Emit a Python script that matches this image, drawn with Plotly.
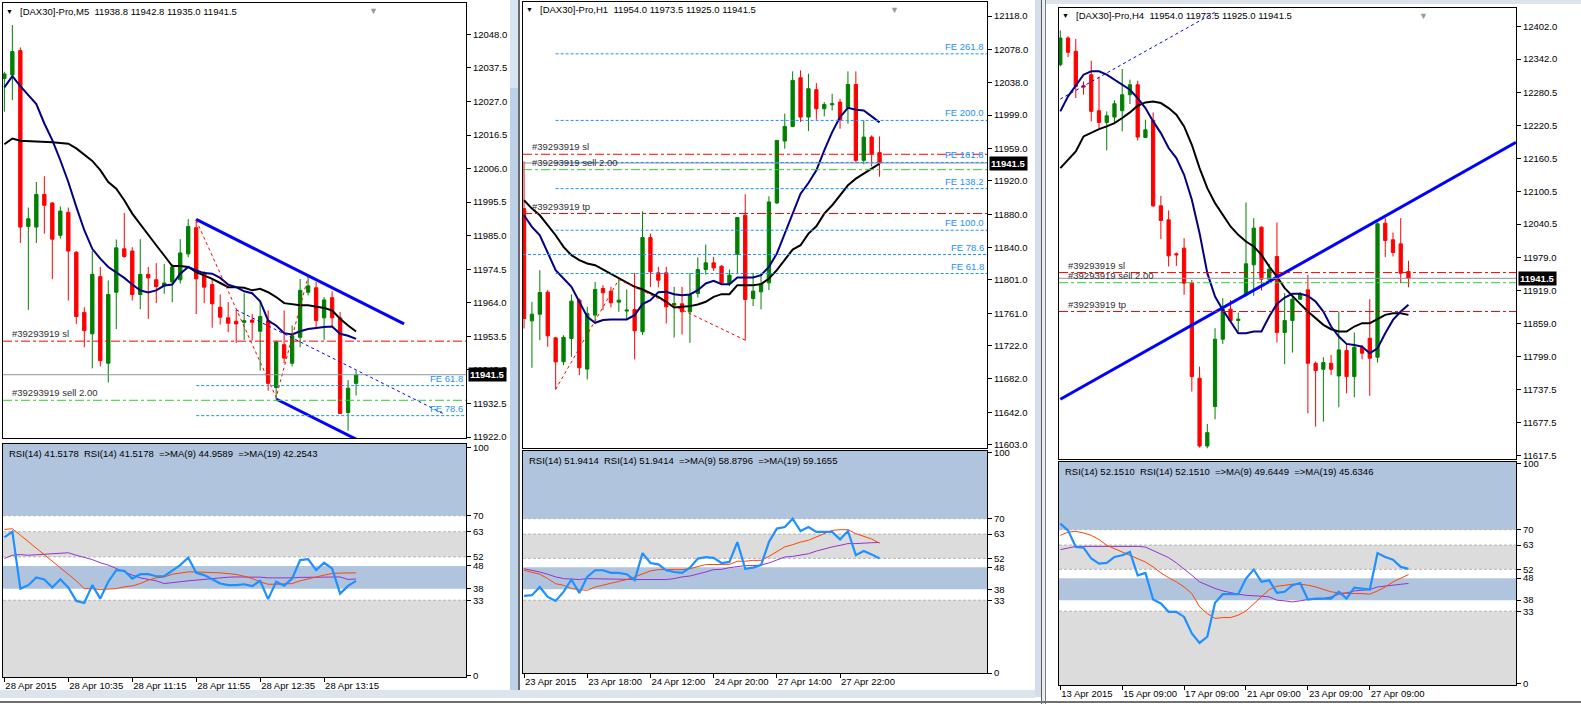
import plotly.graph_objects as go

# ---------------- M5 window ----------------
m5_open = [12034.2, 12035.3, 12042.9, 11987.9, 11987.7, 11997.9, 11995.2, 11985.1, 11992.3, 11979.8,
           11961.0, 11954.3, 11972.2, 11945.1, 11967.3, 11980.9, 11980.2, 11966.6, 11972.9, 11971.2,
           11969.3, 11970.5, 11971.2, 11979.3, 11987.5, 11973.3, 11969.7, 11962.6, 11959.3, 11958.2,
           11957.9, 11958.6, 11955.1, 11958.4, 11937.5, 11950.9, 11945.1, 11953.2, 11967.3, 11968.7,
           11959.3, 11965.6, 11959.3, 11929.7, 11938.8]
m5_high = [12036.3, 12050.9, 12043.9, 11993.8, 12001.8, 12003.6, 11995.5, 11994.2, 11993.8, 11980.2,
           11962.6, 11980.2, 11975.2, 11971.0, 11983.8, 11992.1, 11981.4, 11983.9, 11975.2, 11976.4,
           11976.2, 11976.0, 11983.9, 11990.2, 11990.2, 11973.9, 11971.4, 11966.6, 11964.2, 11961.8,
           11967.0, 11960.5, 11964.7, 11961.6, 11952.2, 11961.6, 11956.9, 11971.5, 11972.5, 11970.5,
           11965.8, 11967.6, 11961.1, 11939.8, 11942.8]
m5_low = [12023.8, 12027.4, 11982.7, 11961.8, 11982.7, 11985.6, 11971.4, 11984.1, 11964.7, 11957.4,
          11950.1, 11943.5, 11944.1, 11939.1, 11955.8, 11978.1, 11964.7, 11962.0, 11959.0, 11963.9,
          11966.8, 11964.2, 11970.0, 11978.3, 11960.5, 11963.9, 11956.2, 11957.2, 11954.8, 11951.4,
          11952.4, 11952.2, 11942.8, 11936.5, 11933.9, 11945.1, 11944.1, 11950.1, 11966.3, 11955.8,
          11952.4, 11956.4, 11929.2, 11924.0, 11935.0]
m5_close = [12035.6, 12042.6, 11987.7, 11990.3, 11997.9, 11994.5, 11983.9, 11992.7, 11980.2, 11959.7,
            11955.3, 11972.9, 11945.9, 11966.6, 11981.2, 11978.5, 11966.6, 11972.9, 11971.8, 11969.1,
            11970.2, 11975.2, 11979.6, 11987.9, 11971.5, 11968.9, 11963.7, 11959.5, 11957.6, 11957.4,
            11958.4, 11957.9, 11959.7, 11938.8, 11951.7, 11946.7, 11953.7, 11967.9, 11969.3, 11958.4,
            11964.9, 11959.3, 11929.4, 11937.3, 11941.5]
m5_ma_fast = [12031.4, 12034.9, 12031.8, 12029.0, 12026.2, 12020.1, 12014.9, 12008.6, 12001.8, 11994.0,
              11986.7, 11980.9, 11977.8, 11975.2, 11973.6, 11971.8, 11969.7, 11967.9, 11967.2, 11967.9,
              11969.4, 11969.7, 11973.1, 11975.2, 11974.1, 11973.3, 11973.1, 11971.8, 11969.7, 11968.9,
              11967.6, 11967.0, 11964.5, 11958.4, 11956.9, 11954.5, 11954.1, 11955.1, 11955.8, 11956.2,
              11956.4, 11956.6, 11954.3, 11953.7, 11952.7]
m5_ma_slow = [12013.6, 12015.4, 12014.7, 12014.6, 12014.6, 12014.5, 12014.2, 12014.0, 12013.8, 12012.3,
              12010.2, 12008.4, 12005.5, 12001.8, 11999.7, 11996.1, 11991.9, 11988.5, 11985.1, 11982.0,
              11978.8, 11975.5, 11975.5, 11975.2, 11973.6, 11972.6, 11971.5, 11970.2, 11968.9, 11968.9,
              11968.7, 11967.9, 11968.4, 11967.3, 11965.8, 11963.9, 11963.5, 11963.2, 11963.2, 11962.8,
              11962.4, 11961.6, 11959.0, 11956.9, 11955.0]
m5_rsi = [60.5, 63.0, 38.1, 39.6, 43.0, 42.1, 38.6, 42.2, 38.6, 32.7, 31.8, 39.6, 33.7, 41.1, 46.2,
          45.9, 42.5, 44.4, 44.4, 43.5, 43.5, 45.9, 48.4, 51.7, 45.0, 44.0, 42.1, 40.3, 39.6, 39.6,
          40.0, 39.2, 41.5, 33.5, 41.1, 39.4, 42.5, 50.6, 51.0, 46.2, 49.4, 46.9, 35.9, 39.3, 41.5]
m5_rsi_ma9 = [64.0, 64.3, 61.5, 58.6, 55.7, 52.7, 49.8, 46.9, 44.4, 41.5, 38.1, 38.1, 37.7, 37.8, 38.1,
              38.9, 39.3, 40.3, 41.8, 42.8, 43.2, 44.4, 45.0, 45.4, 45.4, 45.1, 45.1, 45.0, 44.7, 44.3,
              43.5, 42.5, 41.1, 40.0, 40.0, 40.0, 40.3, 41.5, 42.5, 43.2, 44.0, 44.7, 44.9, 45.0, 45.0]
m5_rsi_ma19 = [51.3, 52.7, 53.0, 52.7, 52.9, 53.2, 53.5, 53.8, 53.8, 52.7, 51.7, 50.8, 49.4, 48.4, 46.9,
               45.4, 44.0, 42.8, 42.2, 41.5, 40.3, 40.8, 41.1, 41.5, 41.8, 42.2, 42.5, 42.8, 43.1, 43.2,
               43.2, 43.2, 43.1, 42.8, 42.7, 42.7, 42.8, 43.0, 43.1, 43.2, 43.2, 43.2, 43.2, 42.1, 42.3]
m5_price_ticks = [11922.0, 11932.5, 11943.0, 11953.5, 11964.0, 11974.5, 11985.0, 11995.5, 12006.0,
                  12016.5, 12027.0, 12037.5, 12048.0]
m5_date_bars = [0, 8, 16, 24, 32, 40]
m5_dates = ["28 Apr 2015", "28 Apr 10:35", "28 Apr 11:15", "28 Apr 11:55", "28 Apr 12:35", "28 Apr 13:15"]
m5_rsi_text = "RSI(14) 41.5178  RSI(14) 41.5178  =>MA(9) 44.9589  =>MA(19) 42.2543"
m5_channel_top = ([24, 50], [11990.1, 11957.4])
m5_channel_bottom = ([34, 50], [11933.9, 11913.8])
m5_dotted = ([29, 55], [11961.8, 11929.2])
m5_zigzag = ([24, 34, 38], [11989.8, 11934.4, 11972.2])
m5_fe_start = 24
m5_fe_names = ["FE 61.8", "FE 78.6"]
m5_fe_levels = [11938.1, 11928.7]

# ---------------- H1 window ----------------
h1_open = [11886.7, 11751.8, 11759.8, 11786.3, 11731.4, 11702.6, 11730.6, 11776.7, 11693.8, 11758.7,
           11790.7, 11787.5, 11774.3, 11763.5, 11765.5, 11738.7, 11851.9, 11809.5, 11809.5, 11770.7,
           11772.3, 11762.7, 11784.7, 11813.5, 11821.5, 11817.5, 11796.7, 11831.9, 11878.7, 11778.7,
           11786.7, 11797.5, 11893.5, 11967.9, 11985.5, 12044.0, 11996.7, 12029.6, 12006.7, 12011.5,
           12014.7, 12007.9, 12035.9, 11944.7, 11972.7, 11954.0]
h1_high = [11943.5, 11774.7, 11812.7, 11788.7, 11732.6, 11734.6, 11783.5, 11778.7, 11768.7, 11798.7,
           11794.7, 11792.7, 11801.5, 11789.5, 11809.5, 11883.5, 11856.7, 11816.7, 11816.7, 11792.7,
           11792.7, 11809.5, 11827.9, 11843.5, 11828.7, 11818.7, 11813.5, 11876.7, 11903.9, 11809.5,
           11809.5, 11901.5, 11968.7, 12000.8, 12051.6, 12052.8, 12048.8, 12037.6, 12014.7, 12024.7,
           12018.7, 12051.6, 12051.6, 11992.7, 11974.7, 11973.5]
h1_low = [11742.6, 11695.4, 11728.6, 11720.6, 11669.4, 11698.6, 11708.6, 11686.6, 11681.4, 11751.8,
          11764.7, 11767.9, 11762.7, 11752.7, 11705.4, 11734.7, 11792.7, 11791.9, 11748.7, 11731.9,
          11735.5, 11725.5, 11779.9, 11807.5, 11811.9, 11795.9, 11793.5, 11807.9, 11728.6, 11769.5,
          11765.5, 11788.7, 11892.3, 11958.7, 11985.5, 11990.7, 11979.9, 11993.5, 11997.5, 12004.7,
          11982.7, 11988.7, 11941.9, 11939.9, 11937.5, 11925.0]
h1_close = [11754.7, 11759.8, 11785.9, 11733.8, 11702.6, 11732.0, 11775.5, 11695.4, 11760.7, 11789.5,
            11785.5, 11773.5, 11776.7, 11764.7, 11739.9, 11851.9, 11810.7, 11800.7, 11768.7, 11772.7,
            11762.7, 11782.7, 11813.5, 11821.5, 11815.5, 11797.5, 11806.7, 11875.9, 11777.5, 11787.5,
            11796.7, 11894.7, 11968.7, 11985.5, 12040.8, 11996.7, 12030.8, 12006.7, 12011.9, 12012.7,
            11993.5, 12035.9, 11944.7, 11972.7, 11952.7, 11941.5]
h1_ma_fast = [11878.7, 11864.7, 11854.7, 11834.7, 11812.7, 11802.7, 11792.7, 11774.7, 11756.7, 11749.5,
              11752.7, 11753.5, 11753.5, 11753.5, 11758.7, 11771.9, 11776.7, 11786.3, 11786.7, 11783.9,
              11782.7, 11783.5, 11788.7, 11796.7, 11799.9, 11795.9, 11795.9, 11803.9, 11803.9, 11803.9,
              11806.7, 11816.7, 11832.7, 11856.7, 11880.7, 11904.7, 11917.5, 11932.7, 11956.7, 11978.7,
              11996.7, 12007.9, 12005.5, 12004.7, 11997.5, 11990.3]
h1_ma_slow = [11896.7, 11886.7, 11878.7, 11866.7, 11854.7, 11840.7, 11830.7, 11824.7, 11820.7, 11818.7,
              11813.5, 11807.9, 11802.7, 11797.5, 11792.7, 11789.5, 11785.5, 11780.7, 11774.7, 11767.9,
              11768.7, 11769.5, 11771.5, 11774.7, 11780.7, 11783.9, 11783.9, 11794.7, 11794.7, 11794.7,
              11795.9, 11802.7, 11812.7, 11824.7, 11837.5, 11842.7, 11856.7, 11865.5, 11880.7, 11890.7,
              11902.7, 11914.7, 11922.7, 11928.7, 11934.7, 11940.7]
h1_rsi = [35.0, 35.3, 39.0, 34.5, 32.7, 36.8, 42.4, 36.3, 43.6, 46.6, 46.6, 45.4, 45.4, 44.8, 42.1,
          54.4, 49.9, 49.3, 46.6, 45.8, 45.4, 47.8, 51.9, 52.6, 52.2, 49.9, 50.4, 59.4, 47.3, 47.8,
          48.9, 59.4, 65.5, 66.2, 70.0, 64.4, 66.2, 64.0, 64.0, 64.0, 60.6, 64.4, 53.4, 55.3, 53.8, 51.9]
h1_rsi_ma9 = [46.6, 45.8, 44.8, 42.8, 40.5, 39.8, 38.3, 37.8, 37.5, 39.0, 39.8, 40.5, 41.3, 42.4, 43.6,
              45.1, 46.3, 46.9, 46.9, 46.9, 46.9, 47.3, 48.4, 49.2, 49.2, 49.2, 49.3, 50.7, 50.7, 51.1,
              51.1, 52.9, 54.9, 57.2, 58.2, 59.4, 60.2, 61.7, 63.5, 64.7, 65.0, 65.0, 63.2, 62.0, 60.8, 58.9]
h1_rsi_ma19 = [47.3, 46.6, 45.8, 44.8, 43.6, 42.8, 42.5, 42.4, 42.8, 42.8, 42.8, 42.8, 42.7, 42.5, 42.4,
               42.4, 42.4, 42.4, 42.4, 42.8, 43.6, 44.0, 44.8, 45.8, 46.9, 47.0, 47.8, 48.4, 48.7, 48.7,
               49.0, 49.9, 51.1, 52.6, 52.9, 53.5, 54.1, 55.3, 56.4, 57.2, 57.9, 58.7, 58.7, 59.0, 59.1, 59.2]
h1_price_ticks = [11603.0, 11642.0, 11682.0, 11722.0, 11761.0, 11801.0, 11840.0, 11880.0, 11920.0,
                  11959.0, 11999.0, 12038.0, 12078.0, 12118.0]
h1_date_bars = [0, 8, 16, 24, 32, 40]
h1_dates = ["23 Apr 2015", "23 Apr 18:00", "24 Apr 12:00", "24 Apr 20:00", "27 Apr 14:00", "27 Apr 22:00"]
h1_rsi_text = "RSI(14) 51.9414  RSI(14) 51.9414  =>MA(9) 58.8796  =>MA(19) 59.1655"
h1_zigzag = ([4, 12, 28], [11669.4, 11801.5, 11728.6])
h1_fe_start = 4
h1_fe_names = ["FE 261.8", "FE 200.0", "FE 161.8", "FE 138.2", "FE 100.0", "FE 78.6", "FE 61.8"]
h1_fe_levels = [12072.7, 11992.7, 11942.2, 11910.7, 11860.7, 11831.5, 11808.7]

# ---------------- H4 window ----------------
h4_open = [12331.9, 12380.7, 12356.3, 12293.5, 12313.6, 12247.8, 12226.4, 12236.2, 12247.8, 12277.0,
           12295.3, 12199.0, 12230.1, 12074.0, 12048.4, 11986.3, 11996.6, 11932.6, 11758.9, 11635.1,
           11707.1, 11830.2, 11885.1, 11864.3, 11911.3, 11966.1, 12035.0, 11939.9, 11981.4, 11842.4,
           11864.3, 11903.3, 11920.4, 11786.3, 11775.3, 11786.3, 11763.1, 11809.5, 11761.9, 11815.6,
           11832.0, 11797.3, 12042.3, 12011.9, 12004.5, 11954.0]
h4_high = [12394.7, 12383.7, 12378.8, 12301.4, 12339.2, 12309.3, 12246.6, 12266.7, 12324.0, 12304.5,
           12302.6, 12231.3, 12244.7, 12092.3, 12065.5, 11988.7, 12014.9, 11938.7, 11780.2, 11675.4,
           11850.3, 11905.2, 11902.1, 11879.0, 12080.1, 12051.5, 12036.2, 11968.0, 12043.6, 11914.3,
           11914.3, 11916.8, 11947.8, 11789.4, 11797.3, 11801.5, 11880.8, 11821.7, 11842.4, 11819.8,
           11903.3, 12043.6, 12051.5, 12025.3, 12051.5, 11973.5]
h4_low = [12328.8, 12345.9, 12270.9, 12277.0, 12228.3, 12216.1, 12175.2, 12226.4, 12210.0, 12260.0,
          12193.5, 12197.8, 12071.6, 12013.1, 11963.1, 11964.3, 11911.3, 11734.5, 11632.1, 11630.9,
          11683.9, 11821.7, 11862.5, 11844.2, 11908.2, 11909.4, 11919.2, 11937.5, 11824.1, 11784.5,
          11805.8, 11902.1, 11694.9, 11670.5, 11679.6, 11765.0, 11705.8, 11731.4, 11724.1, 11793.6,
          11726.6, 11787.5, 11980.2, 11981.4, 11932.6, 11925.0]
h4_close = [12380.7, 12354.5, 12292.3, 12291.0, 12246.6, 12226.4, 12238.6, 12260.6, 12277.0, 12295.3,
            12199.6, 12213.0, 12074.0, 12047.2, 11982.6, 11984.4, 11932.6, 11761.9, 11635.1, 11659.5,
            11830.2, 11885.1, 11864.3, 11866.8, 11968.0, 12033.2, 11939.9, 11958.2, 11842.4, 11864.3,
            11903.3, 11913.1, 11786.3, 11772.9, 11787.5, 11775.3, 11810.7, 11761.9, 11815.6, 11804.6,
            11795.5, 12041.1, 12010.6, 11988.7, 11950.9, 11941.5]
h4_ma_fast = [12246.6, 12274.0, 12293.5, 12313.6, 12319.7, 12319.7, 12313.6, 12304.5, 12295.3, 12286.2,
              12270.9, 12252.6, 12228.3, 12206.9, 12179.5, 12161.2, 12130.7, 12085.0, 12024.0, 11950.9,
              11908.2, 11883.8, 11862.5, 11841.2, 11841.2, 11844.2, 11844.2, 11871.6, 11894.8, 11906.4,
              11913.1, 11913.1, 11909.4, 11899.1, 11880.8, 11853.4, 11835.1, 11821.7, 11819.8, 11816.8,
              11804.6, 11813.7, 11841.2, 11865.5, 11880.8, 11893.0]
h4_ma_slow = [12142.9, 12158.2, 12173.4, 12200.8, 12208.1, 12214.2, 12219.1, 12225.2, 12234.4, 12244.7,
              12256.9, 12263.0, 12264.8, 12261.8, 12252.6, 12240.5, 12219.1, 12185.6, 12142.9, 12106.3,
              12078.9, 12057.6, 12036.2, 12021.0, 12008.8, 11999.7, 11984.4, 11963.1, 11944.8, 11923.5,
              11908.2, 11894.8, 11880.8, 11868.6, 11856.4, 11848.5, 11844.2, 11844.2, 11853.4, 11859.5,
              11859.5, 11866.8, 11874.7, 11877.7, 11877.7, 11874.7]
h4_rsi = [72.7, 69.7, 62.1, 61.8, 56.9, 54.6, 54.9, 57.6, 58.4, 59.9, 49.3, 50.4, 38.3, 36.5, 32.7,
          32.7, 30.4, 22.9, 18.6, 21.4, 36.8, 40.7, 40.7, 40.7, 47.8, 51.9, 46.3, 47.0, 41.3, 41.8,
          44.8, 45.8, 38.3, 38.7, 38.7, 38.7, 41.8, 38.7, 43.7, 43.3, 42.8, 59.4, 57.6, 56.4, 53.1, 52.2]
h4_rsi_ma9 = [67.4, 68.9, 69.2, 68.5, 67.4, 65.5, 62.9, 61.4, 59.9, 58.4, 56.9, 55.3, 53.1, 50.4, 48.2,
              46.3, 44.0, 41.0, 35.0, 31.9, 29.7, 30.1, 30.1, 31.2, 33.1, 36.2, 39.5, 42.8, 44.3, 44.8,
              45.2, 45.2, 44.8, 44.0, 42.8, 41.8, 41.3, 41.0, 41.0, 41.0, 40.7, 42.2, 44.0, 46.3, 47.8, 49.6]
h4_rsi_ma19 = [60.9, 61.8, 62.4, 62.4, 62.4, 62.4, 62.4, 62.4, 62.4, 62.6, 62.4, 62.1, 60.6, 59.1, 57.3,
               54.9, 52.3, 49.3, 46.3, 44.8, 43.3, 42.2, 41.3, 40.7, 40.2, 40.1, 39.8, 39.5, 38.0, 37.7,
               37.2, 37.7, 38.3, 38.3, 38.7, 39.5, 40.7, 41.3, 42.2, 42.5, 42.8, 44.0, 44.3, 44.8, 45.2, 45.6]
h4_price_ticks = [11617.5, 11677.5, 11737.5, 11799.0, 11859.0, 11919.0, 11979.0, 12040.5, 12100.5,
                  12160.5, 12220.5, 12280.5, 12342.0, 12402.0]
h4_date_bars = [0, 8, 16, 24, 32, 40]
h4_dates = ["13 Apr 2015", "15 Apr 09:00", "17 Apr 09:00", "21 Apr 09:00", "23 Apr 09:00", "27 Apr 09:00"]
h4_rsi_text = "RSI(14) 52.1510  RSI(14) 52.1510  =>MA(9) 49.6449  =>MA(19) 45.6346"
h4_trend = ([0, 58.9], [11720.5, 12189.9])
h4_dotted = ([0, 20.2], [12269.1, 12429.4])

# ---------------- shared ----------------
order_id = "#39293919"
order_sl = 11952.0
order_sell = 11933.5
order_tp = 11880.8
rsi_levels = [0, 33, 38, 48, 52, 63, 70, 100]
rsi_dashed = [70, 63, 52, 33]

W, H = 1581, 704
FONT = "Liberation Sans, Arial, sans-serif"
FS = 9.5
GREEN = "#008000"
RED = "#FF0000"
NAVY = "#000080"
FE_BLUE = "#1E90FF"
STEEL = "#B0C4DE"
LIGHTGRAY = "#DCDCDC"


def px(v):
    return v / W


def py(v):
    return 1 - v / H


windows = [
    dict(tf="M5", o=m5_open, h=m5_high, l=m5_low, c=m5_close, fast=m5_ma_fast, slow=m5_ma_slow,
         rsi=m5_rsi, r9=m5_rsi_ma9, r19=m5_rsi_ma19, ticks=m5_price_ticks, dbars=m5_date_bars,
         dates=m5_dates, rsi_text=m5_rsi_text, left=3, right=466, top=3, bottom=438,
         rtop=444, rbottom=677, xr=[-0.17, 57.75], yr=[11921.7, 12057.8], rr=[-0.6, 101.4], tp=False),
    dict(tf="H1", o=h1_open, h=h1_high, l=h1_low, c=h1_close, fast=h1_ma_fast, slow=h1_ma_slow,
         rsi=h1_rsi, r9=h1_rsi_ma9, r19=h1_rsi_ma19, ticks=h1_price_ticks, dbars=h1_date_bars,
         dates=h1_dates, rsi_text=h1_rsi_text, left=523, right=987, top=2, bottom=448,
         rtop=451, rbottom=673, xr=[-0.13, 58.6], yr=[11599.0, 12135.0], rr=[0, 100.7], tp=True),
    dict(tf="H4", o=h4_open, h=h4_high, l=h4_low, c=h4_close, fast=h4_ma_fast, slow=h4_ma_slow,
         rsi=h4_rsi, r9=h4_rsi_ma9, r19=h4_rsi_ma19, ticks=h4_price_ticks, dbars=h4_date_bars,
         dates=h4_dates, rsi_text=h4_rsi_text, left=1059, right=1516, top=8, bottom=459,
         rtop=462, rbottom=685, xr=[-0.17, 58.9], yr=[11611.3, 12435.5], rr=[-0.5, 100.7], tp=True),
]

fig = go.Figure()
layout = {}
shapes = []
annos = []
tick_font = dict(family=FONT, size=FS, color="black")


def line_trace(x, y, xa, ya, color, width, dash="solid"):
    return go.Scatter(x=x, y=y, xaxis=xa, yaxis=ya, mode="lines", hoverinfo="skip",
                      line=dict(color=color, width=width, dash=dash), showlegend=False)


def hline(xa, ya, y, color, dash, x0=None, x1=None, width=1):
    if x0 is None:
        shapes.append(dict(type="line", xref=xa + " domain", x0=0, x1=1, yref=ya, y0=y, y1=y,
                           line=dict(color=color, width=width, dash=dash), layer="above"))
    else:
        shapes.append(dict(type="line", xref=xa, x0=x0, x1=x1, yref=ya, y0=y, y1=y,
                           line=dict(color=color, width=width, dash=dash), layer="above"))


def text(x, y, s, color="black", size=FS, xanchor="left", yanchor="middle", yref="paper", **kw):
    annos.append(dict(x=x, y=y, xref="paper", yref=yref, text=s, showarrow=False,
                      xanchor=xanchor, yanchor=yanchor, font=dict(family=FONT, size=size, color=color),
                      **kw))


for i, w in enumerate(windows):
    km, kr = 2 * i + 1, 2 * i + 2
    xm = "x" if km == 1 else f"x{km}"
    ym = "y" if km == 1 else f"y{km}"
    xr_, yr_ = f"x{kr}", f"y{kr}"
    bars = list(range(len(w["o"])))

    # price panel
    fig.add_trace(go.Candlestick(
        x=bars, open=w["o"], high=w["h"], low=w["l"], close=w["c"], xaxis=xm, yaxis=ym,
        increasing=dict(line=dict(color=GREEN, width=1), fillcolor=GREEN),
        decreasing=dict(line=dict(color=RED, width=1), fillcolor=RED),
        whiskerwidth=0, hoverinfo="skip", showlegend=False))
    fig.add_trace(line_trace(bars, w["slow"], xm, ym, "black", 2))
    fig.add_trace(line_trace(bars, w["fast"], xm, ym, NAVY, 2))

    # rsi panel
    fig.add_trace(line_trace(bars, w["r19"], xr_, yr_, "#9932CC", 1))
    fig.add_trace(line_trace(bars, w["r9"], xr_, yr_, "#FF4500", 1))
    fig.add_trace(line_trace(bars, w["rsi"], xr_, yr_, "#1E90FF", 2.2))

    base_x = dict(range=w["xr"], showgrid=False, zeroline=False, showline=True, linecolor="black",
                  linewidth=1, mirror=True, fixedrange=True, rangeslider=dict(visible=False))
    layout["xaxis" + ("" if km == 1 else str(km))] = dict(
        base_x, domain=[px(w["left"]), px(w["right"])], anchor=ym, showticklabels=False, ticks="")
    layout[f"xaxis{kr}"] = dict(
        base_x, domain=[px(w["left"]), px(w["right"])], anchor=yr_, tickmode="array",
        tickvals=w["dbars"], ticktext=w["dates"], ticks="outside", ticklen=4, tickcolor="black",
        ticklabelposition="outside right", tickangle=0, tickfont=tick_font)
    base_y = dict(side="right", showgrid=False, zeroline=False, showline=True, linecolor="black",
                  linewidth=1, mirror=True, fixedrange=True, ticks="outside", ticklen=4,
                  tickcolor="black", tickfont=tick_font, tickmode="array")
    layout["yaxis" + ("" if km == 1 else str(km))] = dict(
        base_y, domain=[py(w["bottom"]), py(w["top"])], anchor=xm, range=w["yr"],
        tickvals=w["ticks"], tickformat=".1f")
    layout[f"yaxis{kr}"] = dict(
        base_y, domain=[py(w["rbottom"]), py(w["rtop"])], anchor=xr_, range=w["rr"],
        tickvals=rsi_levels, ticktext=[str(v) for v in rsi_levels])

    # rsi bands
    lo, hi = w["rr"]
    for y0, y1, col in [(70, hi + 5, STEEL), (52, 63, LIGHTGRAY), (38, 48, STEEL), (lo - 5, 33, LIGHTGRAY)]:
        shapes.append(dict(type="rect", xref=xr_ + " domain", x0=0, x1=1, yref=yr_, y0=y0, y1=y1,
                           fillcolor=col, line=dict(width=0), layer="below"))
    for lv in rsi_dashed:
        shapes.append(dict(type="line", xref=xr_ + " domain", x0=0, x1=1, yref=yr_, y0=lv, y1=lv,
                           line=dict(color="#B4B4B4", width=1, dash="3px,2px"), layer="below"))

    # order lines
    hline(xm, ym, order_sl, RED, "dashdot")
    hline(xm, ym, order_sell, "#32CD32", "dashdot")
    if w["tp"]:
        hline(xm, ym, order_tp, RED, "dashdot")
    hline(xm, ym, w["c"][-1], "#8C96A0", "solid")
    lx = px(w["left"] + 7)
    text(lx, order_sl, order_id + " sl", "#303030", yanchor="bottom", yref=ym)
    text(lx, order_sell, order_id + " sell 2.00", "#303030", yanchor="bottom", yref=ym)
    if w["tp"]:
        text(lx, order_tp, order_id + " tp", "#303030", yanchor="bottom", yref=ym)

    # headers
    head = "[DAX30]-Pro,%s  %.1f %.1f %.1f %.1f" % (w["tf"], w["o"][-1], w["h"][-1], w["l"][-1], w["c"][-1])
    text(px(w["left"] + 6), py(w["top"] + 8), "▼", "black", size=7, xanchor="center")
    text(px(w["left"] + 15), py(w["top"] + 8), head)
    text(px(w["left"] + 4), py(w["rtop"] + 9), w["rsi_text"])
    text(px(w["right"] - 93), py(w["top"] + 1), "▼", "#9A9A9A", size=9, xanchor="center", yanchor="top")
    # current price box
    text(px(w["right"] + 2), w["c"][-1], "<b>%.1f</b>" % w["c"][-1], "white", xanchor="left",
         yref=ym, bgcolor="black", borderpad=1)

# M5 objects
fig.add_trace(line_trace(*m5_channel_top, "x", "y", "#0000FF", 3))
fig.add_trace(line_trace(*m5_channel_bottom, "x", "y", "#0000FF", 3))
fig.add_trace(line_trace(*m5_dotted, "x", "y", "#0000FF", 1, "dot"))
fig.add_trace(line_trace(*m5_zigzag, "x", "y", RED, 1, "dot"))
for name, lv in zip(m5_fe_names, m5_fe_levels):
    hline("x", "y", lv, FE_BLUE, "3px,2px", x0=m5_fe_start, x1=windows[0]["xr"][1])
    text(px(windows[0]["right"] - 1), lv, name, FE_BLUE, xanchor="right", yanchor="bottom", yref="y")

# H1 objects
fig.add_trace(line_trace(*h1_zigzag, "x3", "y3", RED, 1, "dot"))
for name, lv in zip(h1_fe_names, h1_fe_levels):
    x0 = windows[1]["xr"][0] if name == "FE 78.6" else h1_fe_start
    hline("x3", "y3", lv, FE_BLUE, "3px,2px", x0=x0, x1=windows[1]["xr"][1])
    text(px(windows[1]["right"] - 1), lv, name, FE_BLUE, xanchor="right", yanchor="bottom", yref="y3")

# H4 objects
fig.add_trace(line_trace(*h4_trend, "x5", "y5", "#0000FF", 3))
fig.add_trace(line_trace(*h4_dotted, "x5", "y5", "#0000FF", 1, "dot"))

# terminal window frames
frames = [
    (510, 518, 0, 697, "#BCD0E8"),
    (510, 518, 0, 88, "#D8E4F2"),
    (518, 520, 0, 697, "#6A6A6A"),
    (1035, 1041, 0, 697, "#D4DEEA"),
    (1041, 1042, 0, 704, "#5A5A5A"),
    (1042, 1045, 0, 704, "#E8EEF5"),
    (1045, 1046, 0, 704, "#7A7A7A"),
    (1046, 1581, 0, 4, "#DDE3EA"),
    (0, 1035, 690, 698, "#DCE4EE"),
    (0, 1581, 701, 703, "#707070"),
]
for x0, x1, y0, y1, col in frames:
    shapes.append(dict(type="rect", xref="paper", yref="paper", x0=px(x0), x1=px(x1),
                       y0=py(y1), y1=py(y0), fillcolor=col, line=dict(width=0), layer="below"))

fig.update_layout(
    width=W, height=H, margin=dict(l=0, r=0, t=0, b=0, autoexpand=False), autosize=False,
    paper_bgcolor="white", plot_bgcolor="white", showlegend=False, boxgap=0.4,
    font=dict(family=FONT, size=FS, color="black"),
    shapes=shapes, annotations=annos, **layout)

# the page is photographed at exactly the figure size, so drop the default body margin
fig.write_html("out.html", config={"displayModeBar": False},
               post_script="document.body.style.margin='0';document.body.style.overflow='hidden';")
